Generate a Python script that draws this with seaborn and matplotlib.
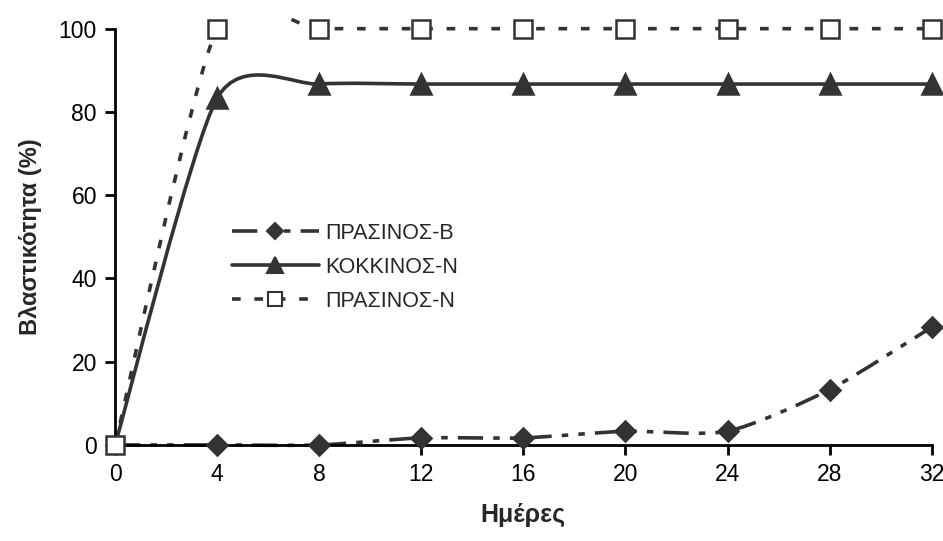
import numpy as np
import pandas as pd
import matplotlib
matplotlib.use("Agg")
import matplotlib.pyplot as plt
from matplotlib.path import Path
from matplotlib.patches import PathPatch, Rectangle
from matplotlib.lines import Line2D
import seaborn as sns

# ---- data ----
days = [0, 4, 8, 12, 16, 20, 24, 28, 32]
prasinos_b = [0, 0, 0, 1.7, 1.7, 3.3, 3.3, 13.3, 28.3]
kokkinos_n = [0, 83.3, 86.7, 86.7, 86.7, 86.7, 86.7, 86.7, 86.7]
prasinos_n = [0, 100, 100, 100, 100, 100, 100, 100, 100]
series_names = ["ΠΡΑΣΙΝΟΣ-Β", "ΚΟΚΚΙΝΟΣ-Ν", "ΠΡΑΣΙΝΟΣ-Ν"]
x_ticks = [0, 4, 8, 12, 16, 20, 24, 28, 32]
y_ticks = [0, 20, 40, 60, 80, 100]
x_label = "Ημέρες"
y_label = "Βλαστικότητα (%)"

sns.set_style("ticks")
plt.rcParams["font.family"] = ["Liberation Sans", "DejaVu Sans"]

col = "#333333"
fig = plt.figure(figsize=(9.43, 5.41), dpi=100)
ax = fig.add_axes([0.122, 0.1775, 0.866, 0.7695])


def smooth_path(xs, ys, t=0.12):
    pts = np.column_stack([xs, ys]).astype(float)
    n = len(pts)
    verts = [pts[0]]
    codes = [Path.MOVETO]
    for i in range(n - 1):
        p0 = pts[i - 1] if i > 0 else pts[i]
        p1 = pts[i]
        p2 = pts[i + 1]
        p3 = pts[i + 2] if i + 2 < n else pts[i + 1]
        c1 = p1 + (p2 - p0) * t
        c2 = p2 - (p3 - p1) * t
        verts += [c1, c2, p2]
        codes += [Path.CURVE4] * 3
    return Path(np.array(verts), codes)


# clip region slightly larger than the axes box (like the original plot area)
clip_rect = Rectangle((-0.01, -0.02), 1.02, 1.045, transform=ax.transAxes,
                      facecolor="none", edgecolor="none")
ax.add_artist(clip_rect)
clip_rect.set_visible(False)

lw = 2.6
dash_b = (0, (7, 2.8, 1.8, 2.8, 1.8, 2.8))
dash_n = (0, (2.4, 3.8))
styles = [
    dict(y=prasinos_b, ls=dash_b, marker="D", ms=10.5, mfc=col, start=1),
    dict(y=kokkinos_n, ls="-", marker="^", ms=15, mfc=col, start=1),
    dict(y=prasinos_n, ls=dash_n, marker="s", ms=12.5, mfc="white", start=0),
]

handles = []
for name, st in zip(series_names, styles):
    patch = PathPatch(smooth_path(days, st["y"]), facecolor="none",
                      edgecolor=col, lw=lw, linestyle=st["ls"],
                      capstyle="butt", joinstyle="round", zorder=2)
    ax.add_patch(patch)
    patch.set_clip_path(clip_rect)
    df = pd.DataFrame({"x": days[st["start"]:], "y": st["y"][st["start"]:]})
    sns.lineplot(data=df, x="x", y="y", ax=ax, linestyle="", marker=st["marker"],
                 markersize=st["ms"], markerfacecolor=st["mfc"],
                 markeredgecolor=col, markeredgewidth=1.8, color=col,
                 clip_on=False, zorder=4, legend=False)
    handles.append(Line2D([], [], color=col, lw=lw, linestyle=st["ls"],
                          marker=st["marker"], markersize=st["ms"] * 0.75,
                          markerfacecolor=st["mfc"], markeredgecolor=col,
                          markeredgewidth=1.5, dash_capstyle="butt"))

ax.set_xlim(0, 32)
ax.set_ylim(0, 100)
ax.set_xticks(x_ticks)
ax.set_yticks(y_ticks)
ax.tick_params(axis="both", labelsize=16.5, length=7, width=2, colors="black",
               direction="out", pad=6)
for s in ["left", "bottom"]:
    ax.spines[s].set_linewidth(2)
    ax.spines[s].set_color("black")
    ax.spines[s].set_zorder(3)
ax.spines["top"].set_visible(False)
ax.spines["right"].set_visible(False)

ax.set_xlabel(x_label, fontsize=18, fontweight="bold", labelpad=12)
ax.set_ylabel(y_label, fontsize=17, fontweight="bold", labelpad=12)

leg = ax.legend(handles, series_names, loc="upper left",
                bbox_to_anchor=(0.12, 0.58), frameon=False, fontsize=15.5,
                handlelength=4.0, handletextpad=0.3, labelspacing=0.6)

fig.savefig("out.png", dpi=100)
